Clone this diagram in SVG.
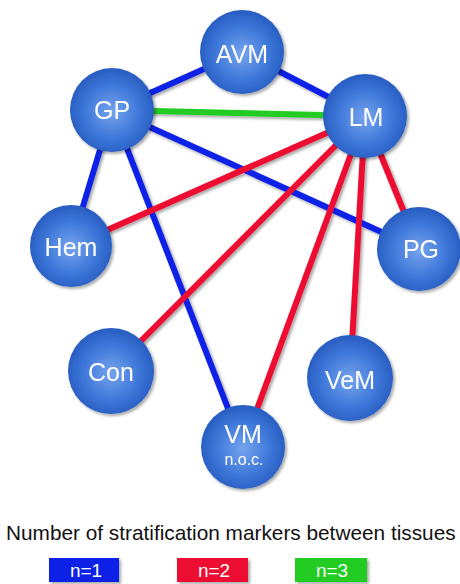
<svg xmlns="http://www.w3.org/2000/svg" width="460" height="584" viewBox="0 0 460 584">
  <defs>
    <radialGradient id="sphere" cx="50%" cy="52%" r="55%">
      <stop offset="0" stop-color="#76a4ee"/>
      <stop offset="0.6" stop-color="#3c76d8"/>
      <stop offset="1" stop-color="#2458bd"/>
    </radialGradient>
    <filter id="shadow" x="-20%" y="-20%" width="150%" height="150%">
      <feGaussianBlur in="SourceAlpha" stdDeviation="1.5"/>
      <feOffset dx="2" dy="2" result="b"/>
      <feComponentTransfer><feFuncA type="linear" slope="0.35"/></feComponentTransfer>
      <feMerge><feMergeNode/><feMergeNode in="SourceGraphic"/></feMerge>
    </filter>
  </defs>
  <style>
    .edge { stroke-width: 6; stroke-linecap: butt; fill: none; }
    .n1 { stroke: #1020e6; }
    .n2 { stroke: #ee1030; }
    .n3 { stroke: #22cc22; }
    .node circle { fill: url(#sphere); }
    .label { font-family: "Liberation Sans", Arial, sans-serif; fill: #ffffff; text-anchor: middle; }
    .title { font-family: "Liberation Sans", Arial, sans-serif; fill: #111111; font-size: 20.8px; }
    .key { font-family: "Liberation Sans", Arial, sans-serif; fill: #ffffff; font-size: 19px; text-anchor: middle; }
  </style>

  <g id="connectors" filter="url(#shadow)">
    <line class="edge n1" x1="242" y1="52" x2="112" y2="110"/>
    <line class="edge n1" x1="242" y1="52" x2="365" y2="116"/>
    <line class="edge n3" x1="112" y1="110" x2="365" y2="116"/>
    <line class="edge n1" x1="112" y1="110" x2="71" y2="246"/>
    <line class="edge n1" x1="112" y1="110" x2="243" y2="447"/>
    <line class="edge n1" x1="112" y1="110" x2="419" y2="249"/>
    <line class="edge n2" x1="365" y1="116" x2="71" y2="246"/>
    <line class="edge n2" x1="365" y1="116" x2="111" y2="371"/>
    <line class="edge n2" x1="365" y1="116" x2="243" y2="447"/>
    <line class="edge n2" x1="365" y1="116" x2="350" y2="378"/>
    <line class="edge n2" x1="365" y1="116" x2="419" y2="249"/>
  </g>

  <g id="node-AVM" class="node" filter="url(#shadow)">
    <circle cx="242" cy="52" r="42"/>
    <text class="label" x="242" y="63" font-size="25">AVM</text>
  </g>
  <g id="node-GP" class="node" filter="url(#shadow)">
    <circle cx="112" cy="110" r="42"/>
    <text class="label" x="112" y="119" font-size="25">GP</text>
  </g>
  <g id="node-LM" class="node" filter="url(#shadow)">
    <circle cx="365" cy="116" r="42"/>
    <text class="label" x="366" y="126" font-size="25">LM</text>
  </g>
  <g id="node-Hem" class="node" filter="url(#shadow)">
    <circle cx="71" cy="246" r="41"/>
    <text class="label" x="71" y="256" font-size="25">Hem</text>
  </g>
  <g id="node-PG" class="node" filter="url(#shadow)">
    <circle cx="419" cy="249" r="42"/>
    <text class="label" x="421" y="258" font-size="25">PG</text>
  </g>
  <g id="node-Con" class="node" filter="url(#shadow)">
    <circle cx="111" cy="371" r="43"/>
    <text class="label" x="111" y="381" font-size="25">Con</text>
  </g>
  <g id="node-VeM" class="node" filter="url(#shadow)">
    <circle cx="350" cy="378" r="43"/>
    <text class="label" x="350" y="389" font-size="25">VeM</text>
  </g>
  <g id="node-VM" class="node" filter="url(#shadow)">
    <circle cx="243" cy="447" r="42"/>
    <text class="label" x="243" y="443" font-size="25">VM</text>
    <text class="label" x="244" y="465" font-size="16">n.o.c.</text>
  </g>

  <g id="legend">
    <text class="title" x="6" y="540">Number of stratification markers between tissues</text>
    <g filter="url(#shadow)">
      <rect x="49" y="558" width="70" height="24" fill="#1020e6"/>
      <rect x="177" y="558" width="71" height="24" fill="#ee1030"/>
      <rect x="295" y="558" width="72" height="24" fill="#22cc22"/>
    </g>
    <text class="key" x="86" y="577">n=1</text>
    <text class="key" x="214" y="577">n=2</text>
    <text class="key" x="332" y="577">n=3</text>
  </g>
</svg>
